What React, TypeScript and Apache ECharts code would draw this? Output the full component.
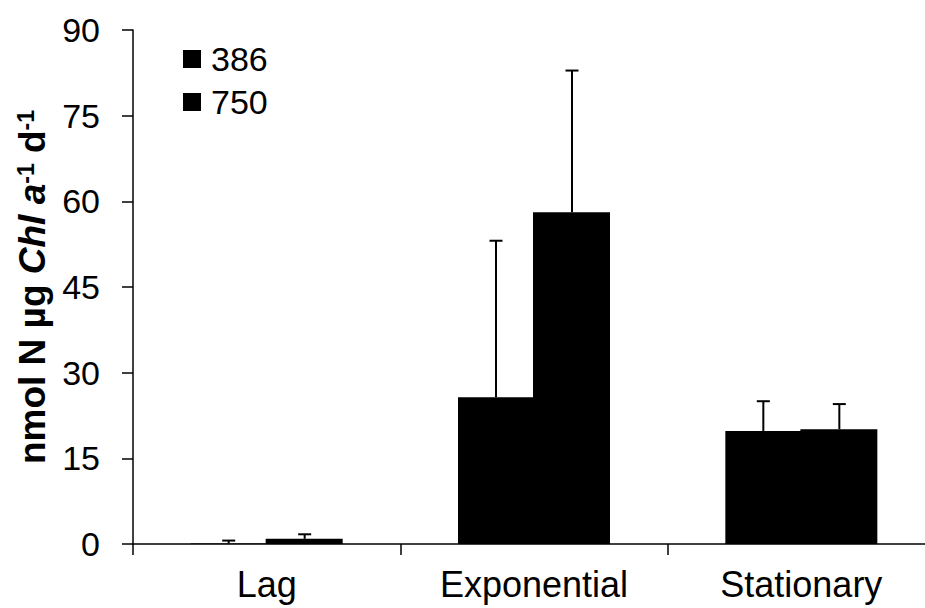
import React, { useEffect, useRef } from "react";
import * as echarts from "echarts";

const categories = ["Lag", "Exponential", "Stationary"];
const seriesNames = ["386", "750"];
const values386 = [0.1, 25.7, 19.8];
const values750 = [0.9, 58.1, 20.1];
const err386 = [0.5, 27.4, 5.2];
const err750 = [0.8, 24.8, 4.4];
const yTicks = { min: 0, max: 90, interval: 15 };

const FONT = "'Liberation Sans', Arial, sans-serif";
const BAR_W = 77;

function errSeries(name: string, vals: number[], errs: number[], side: number) {
  return {
    type: "custom",
    name,
    z: 5,
    data: vals.map((v, i) => [i, v, v + errs[i]]),
    renderItem: (params: any, api: any) => {
      const base = api.coord([api.value(0), api.value(1)]);
      const top = api.coord([api.value(0), api.value(2)]);
      const x = base[0] + side * 38;
      const style = { stroke: "#000", lineWidth: 2 };
      return {
        type: "group",
        children: [
          { type: "line", shape: { x1: x, y1: base[1], x2: x, y2: top[1] }, style },
          { type: "line", shape: { x1: x - 6.5, y1: top[1], x2: x + 6.5, y2: top[1] }, style },
        ],
      };
    },
  };
}

export default function App() {
  const ref = useRef<HTMLDivElement>(null);
  useEffect(() => {
    document.body.style.margin = "0";
    const chart = echarts.init(ref.current!, null, { renderer: "svg" });
    chart.setOption({
      animation: false,
      backgroundColor: "#fff",
      textStyle: { fontFamily: FONT, color: "#000" },
      grid: { left: 133, top: 30, right: 1, bottom: 64, containLabel: false },
      legend: {
        data: seriesNames,
        orient: "vertical",
        left: 178,
        top: 37,
        itemWidth: 18,
        itemHeight: 18,
        itemGap: 9,
        icon: "rect",
        textStyle: { fontFamily: FONT, fontSize: 34, lineHeight: 34, color: "#000", padding: [0, 0, 0, 5] },
      },
      xAxis: {
        type: "category",
        data: categories,
        axisLine: { lineStyle: { color: "#000", width: 1.5 } },
        axisTick: { show: true, length: 11, lineStyle: { color: "#000", width: 1.5 } },
        axisLabel: { fontFamily: FONT, fontSize: 36, color: "#000", margin: 22 },
      },
      yAxis: {
        type: "value",
        min: yTicks.min,
        max: yTicks.max,
        interval: yTicks.interval,
        splitLine: { show: false },
        axisLine: { show: true, lineStyle: { color: "#000", width: 1.5 } },
        axisTick: { show: true, length: 11, lineStyle: { color: "#000", width: 1.5 } },
        axisLabel: { fontFamily: FONT, fontSize: 34, color: "#000", margin: 33 },
        name: "{b|nmol N µg }{i|Chl a}{s|-1}{b| d}{s|-1}",
        nameLocation: "middle",
        nameRotate: 90,
        nameGap: 80,
        nameTextStyle: {
          rich: {
            b: { fontFamily: FONT, fontSize: 37, fontWeight: "bold", color: "#000" },
            i: { fontFamily: FONT, fontSize: 37, fontWeight: "bold", fontStyle: "italic", color: "#000" },
            s: { fontFamily: FONT, fontSize: 23, fontWeight: "bold", color: "#000", verticalAlign: "top" },
          },
        },
      },
      series: [
        {
          type: "bar",
          name: seriesNames[0],
          data: values386,
          barWidth: BAR_W,
          barGap: "-2.6%",
          itemStyle: { color: "#000" },
        },
        {
          type: "bar",
          name: seriesNames[1],
          data: values750,
          barWidth: BAR_W,
          barGap: "-2.6%",
          itemStyle: { color: "#000" },
        },
        errSeries("err386", values386, err386, -1),
        errSeries("err750", values750, err750, 1),
      ],
    });
    return () => chart.dispose();
  }, []);
  return (
    <div style={{ width: 925, height: 608, overflow: "hidden", position: "relative" }}>
      <div ref={ref} style={{ width: 936, height: 608 }} />
    </div>
  );
}
